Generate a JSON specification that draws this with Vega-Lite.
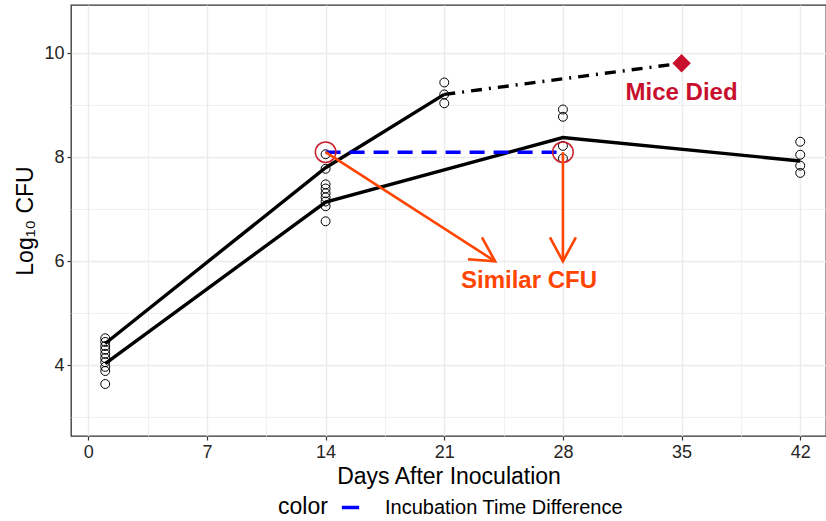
{
  "$schema": "https://vega.github.io/schema/vega-lite/v6.json",
  "width": 755,
  "height": 431,
  "autosize": "none",
  "padding": {"left": 71, "top": 5, "right": 0, "bottom": 85},
  "background": "white",
  "config": {
    "font": "Liberation Sans",
    "view": {"stroke": "#333333", "strokeWidth": 1.3},
    "axis": {
      "domain": false,
      "gridColor": "#EBEBEB",
      "tickColor": "#333333",
      "tickSize": 4,
      "tickWidth": 1.2,
      "labelColor": "#262626",
      "labelFontSize": 18,
      "titleFontSize": 23,
      "titleFontWeight": "normal",
      "titleColor": "#000000",
      "labelOverlap": false
    }
  },
  "datasets": {
    "obs": [
      {"day": 1, "cfu": 4.52}, {"day": 1, "cfu": 4.45}, {"day": 1, "cfu": 4.37}, {"day": 1, "cfu": 4.30}, {"day": 1, "cfu": 4.22},
      {"day": 1, "cfu": 4.14}, {"day": 1, "cfu": 4.06}, {"day": 1, "cfu": 3.97}, {"day": 1, "cfu": 3.89}, {"day": 1, "cfu": 3.64},
      {"day": 14, "cfu": 8.06}, {"day": 14, "cfu": 7.78}, {"day": 14, "cfu": 7.48}, {"day": 14, "cfu": 7.40}, {"day": 14, "cfu": 7.31},
      {"day": 14, "cfu": 7.23}, {"day": 14, "cfu": 7.15}, {"day": 14, "cfu": 7.06}, {"day": 14, "cfu": 6.77},
      {"day": 21, "cfu": 9.44}, {"day": 21, "cfu": 9.21}, {"day": 21, "cfu": 9.04},
      {"day": 28, "cfu": 8.92}, {"day": 28, "cfu": 8.78}, {"day": 28, "cfu": 8.22}, {"day": 28, "cfu": 7.98},
      {"day": 42, "cfu": 8.30}, {"day": 42, "cfu": 8.05}, {"day": 42, "cfu": 7.84}, {"day": 42, "cfu": 7.70}
    ],
    "means": [
      {"grp": "A", "day": 1, "cfu": 4.42}, {"grp": "A", "day": 14, "cfu": 7.80}, {"grp": "A", "day": 21, "cfu": 9.21},
      {"grp": "B", "day": 1, "cfu": 4.03}, {"grp": "B", "day": 14, "cfu": 7.14}, {"grp": "B", "day": 28, "cfu": 8.38}, {"grp": "B", "day": 42, "cfu": 7.93}
    ],
    "died": [
      {"day": 21, "cfu": 9.21}, {"day": 35, "cfu": 9.81}
    ],
    "diff": [
      {"label": "Incubation Time Difference", "day": 14, "cfu": 8.1},
      {"label": "Incubation Time Difference", "day": 28, "cfu": 8.1}
    ],
    "similar": [
      {"day": 14, "cfu": 8.1}, {"day": 28, "cfu": 8.1}
    ],
    "arrows": [
      {"arrow": "a", "day": 14, "cfu": 8.1}, {"arrow": "a", "day": 24, "cfu": 6.0},
      {"arrow": "b", "day": 28, "cfu": 8.1}, {"arrow": "b", "day": 28, "cfu": 6.0}
    ],
    "tipA": [{"day": 24, "cfu": 6.0}],
    "tipB": [{"day": 28, "cfu": 6.0}],
    "dead": [{"day": 35, "cfu": 9.81}],
    "deadLabel": [{"day": 35, "cfu": 9.24, "text": "Mice Died"}],
    "simLabel": [{"day": 26.0, "cfu": 5.63, "text": "Similar CFU"}]
  },
  "encoding": {
    "x": {
      "field": "day", "type": "quantitative",
      "scale": {"domain": [-1.02, 43.52], "nice": false, "zero": false},
      "axis": {
        "title": "Days After Inoculation",
        "values": [0, 3.5, 7, 10.5, 14, 17.5, 21, 24.5, 28, 31.5, 35, 38.5, 42],
        "labelExpr": "datum.value % 7 === 0 ? datum.label : ''",
        "tickOpacity": {"condition": {"test": "datum.value % 7 !== 0", "value": 0}, "value": 1},
        "gridWidth": {"condition": {"test": "datum.value % 7 !== 0", "value": 0.7}, "value": 1.4},
        "labelPadding": 3,
        "titlePadding": 4
      }
    },
    "y": {
      "field": "cfu", "type": "quantitative",
      "scale": {"domain": [2.64, 10.93], "nice": false, "zero": false},
      "axis": {
        "title": "Log₁₀ CFU",
        "values": [3, 4, 5, 6, 7, 8, 9, 10],
        "labelExpr": "datum.value % 2 === 0 ? datum.label : ''",
        "tickOpacity": {"condition": {"test": "datum.value % 2 !== 0", "value": 0}, "value": 1},
        "gridWidth": {"condition": {"test": "datum.value % 2 !== 0", "value": 0.7}, "value": 1.4},
        "labelPadding": 3,
        "titlePadding": 6
      }
    }
  },
  "layer": [
    {
      "data": {"name": "obs"},
      "mark": {"type": "point", "shape": "circle", "filled": false, "stroke": "#000000", "strokeWidth": 1, "size": 80, "opacity": 1}
    },
    {
      "data": {"name": "means"},
      "mark": {"type": "line", "color": "#000000", "strokeWidth": 3.4},
      "encoding": {"detail": {"field": "grp"}}
    },
    {
      "data": {"name": "died"},
      "mark": {"type": "line", "color": "#000000", "strokeWidth": 3.4, "strokeDash": [11, 7, 2, 7]},
      "encoding": {}
    },
    {
      "data": {"name": "dead"},
      "mark": {"type": "point", "shape": "diamond", "filled": true, "color": "#C8102E", "size": 340, "opacity": 1}
    },
    {
      "data": {"name": "diff"},
      "mark": {"type": "line", "strokeWidth": 3.5, "strokeDash": [15, 9]},
      "encoding": {
        "color": {
          "field": "label", "type": "nominal",
          "scale": {"domain": ["Incubation Time Difference"], "range": ["#0000FF"]},
          "legend": {
            "title": "color",
            "orient": "none",
            "legendX": 207,
            "legendY": 492,
            "direction": "horizontal",
            "titleOrient": "left",
            "titleFontSize": 23,
            "titleFontWeight": "normal",
            "titleColor": "#000000",
            "titlePadding": 12,
            "labelFontSize": 20,
            "labelColor": "#000000",
            "labelOffset": 24,
            "labelLimit": 500,
            "symbolType": "stroke",
            "symbolStrokeWidth": 3.5,
            "symbolDash": [18, 0],
            "symbolSize": 300
          }
        }
      }
    },
    {
      "data": {"name": "similar"},
      "mark": {"type": "point", "shape": "circle", "filled": false, "stroke": "#C8202F", "strokeWidth": 1.5, "size": 420, "opacity": 1}
    },
    {
      "data": {"name": "arrows"},
      "mark": {"type": "line", "color": "#FF4500", "strokeWidth": 2.6},
      "encoding": {"detail": {"field": "arrow"}}
    },
    {
      "data": {"name": "tipA"},
      "mark": {"type": "point", "shape": "M-0.54,-1L0,0L0.54,-1", "filled": false, "stroke": "#FF4500", "strokeWidth": 2.6, "size": 2300, "angle": -57.2, "opacity": 1}
    },
    {
      "data": {"name": "tipB"},
      "mark": {"type": "point", "shape": "M-0.54,-1L0,0L0.54,-1", "filled": false, "stroke": "#FF4500", "strokeWidth": 2.6, "size": 2300, "angle": 0, "opacity": 1}
    },
    {
      "data": {"name": "deadLabel"},
      "mark": {"type": "text", "color": "#C8102E", "fontSize": 24, "fontWeight": "bold", "baseline": "middle", "align": "center"},
      "encoding": {"text": {"field": "text"}}
    },
    {
      "data": {"name": "simLabel"},
      "mark": {"type": "text", "color": "#FF4500", "fontSize": 24, "fontWeight": "bold", "baseline": "middle", "align": "center"},
      "encoding": {"text": {"field": "text"}}
    }
  ]
}
